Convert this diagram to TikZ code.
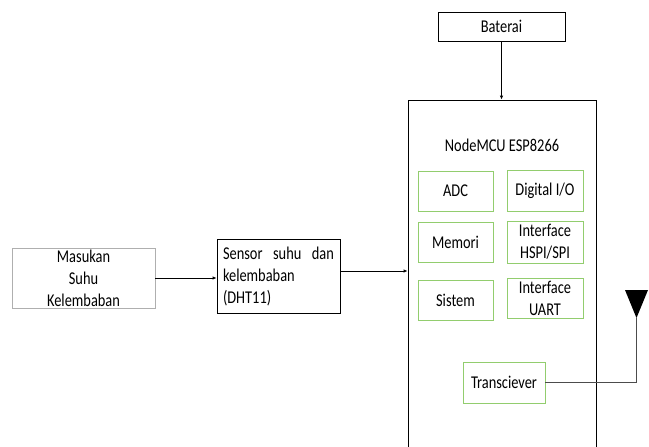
\documentclass[tikz,border=0pt]{standalone}
\usepackage{fontspec}
\setmainfont{Carlito}[FakeStretch=0.8]
\usepackage{tikz}
\usetikzlibrary{arrows.meta}
\definecolor{boxgreen}{RGB}{146,205,110}
\definecolor{boxgray}{RGB}{175,175,175}

\tikzset{
  blok/.style={draw, inner sep=0pt, align=center},
  sub/.style={blok, draw=boxgreen, minimum width=75, minimum height=40},
}

\begin{document}
\begin{tikzpicture}[x=1pt, y=-1pt, >={Latex[length=4pt,width=3.5pt]}, line width=0.8pt,
    font=\fontsize{18}{22}\selectfont]
\useasboundingbox (0,0) rectangle (649,447);
\clip (0,0) rectangle (649,447);

% Input and sensor
\node[blok, draw=boxgray, minimum width=143, minimum height=60] (masukan) at (83.5,278) {Masukan\\Suhu\\Kelembaban};
\node[blok, minimum width=123, minimum height=74] (sensor) at (278.5,276)
  {\parbox{111pt}{\makebox[111pt][s]{Sensor suhu dan}\\kelembaban\\(DHT11)}};

% Battery and board
\node[blok, minimum width=127, minimum height=29] (baterai) at (501.5,26.5) {Baterai};
\node[blok, minimum width=188, minimum height=370] (nodemcu) at (502,285) {};
\node (judul) at (502,145) {NodeMCU ESP8266};

% Blocks inside the board
\node[sub] (adc) at (455.5,191) {ADC};
\node[sub, minimum width=76, minimum height=41] (dio) at (545,190.5) {Digital I/O};
\node[sub] (memori) at (455.5,242) {Memori};
\node[sub, minimum width=76, minimum height=42] (hspi) at (545,242) {Interface\\HSPI/SPI};
\node[sub] (sistem) at (455.5,300) {Sistem};
\node[sub, minimum width=76] (uart) at (545,298) {Interface\\UART};
\node[sub, minimum width=82, minimum height=41] (trx) at (504,382.5) {Transciever};

% Antenna
\fill (625,290) -- (648,290) -- (636.5,318) -- cycle;
\coordinate (ant) at (636.5,318);

% Connections
\draw[->] (masukan.east) -- (masukan.east -| sensor.west);
\draw[->] ([yshift=5pt]sensor.east) -- ([yshift=5pt]sensor.east -| nodemcu.west);
\draw[->] (baterai.south) -- (baterai.south |- nodemcu.north);
\draw[draw=black!70] (trx.east) -| (ant);

\end{tikzpicture}
\end{document}
